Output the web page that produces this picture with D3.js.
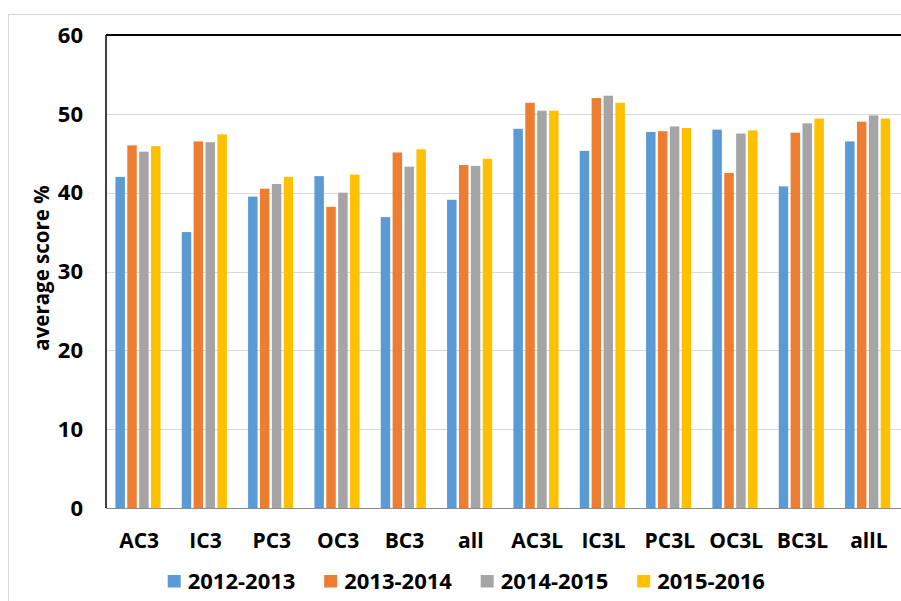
<!DOCTYPE html>
<html>
<head>
<meta charset="utf-8">
<script src="https://cdn.jsdelivr.net/npm/d3@7"></script>
<style>
  body { margin: 0; background: #fff; }
  svg { display: block; font-family: 'Open Sans', sans-serif; font-weight: bold; }
</style>
</head>
<body>
<svg id="chart" width="901" height="601"></svg>
<script>
const categories = ['AC3', 'IC3', 'PC3', 'OC3', 'BC3', 'all', 'AC3L', 'IC3L', 'PC3L', 'OC3L', 'BC3L', 'allL']
const seriesNames = ['2012-2013', '2013-2014', '2014-2015', '2015-2016']
const colors = ['#5b9bd5', '#ed7d31', '#a5a5a5', '#ffc000']
const s2012 = [42.0, 35.0, 39.5, 42.1, 36.9, 39.1, 48.1, 45.3, 47.7, 48.0, 40.8, 46.5]
const s2013 = [46.0, 46.5, 40.5, 38.2, 45.1, 43.5, 51.4, 52.0, 47.8, 42.5, 47.6, 49.0]
const s2014 = [45.2, 46.4, 41.1, 40.0, 43.3, 43.4, 50.4, 52.3, 48.4, 47.5, 48.8, 49.8]
const s2015 = [45.9, 47.4, 42.0, 42.3, 45.5, 44.3, 50.4, 51.4, 48.2, 47.9, 49.4, 49.4]
const yTicks = [0, 10, 20, 30, 40, 50, 60]

const series = [s2012, s2013, s2014, s2015]

const svg = d3.select('#chart')
const plot = { left: 106, right: 902, top: 35, bottom: 508 }

// outer chart border
svg.append('rect')
  .attr('x', 8.5).attr('y', 14.5)
  .attr('width', 901).attr('height', 620)
  .attr('fill', 'none')
  .attr('stroke', '#d9d9d9')

const x0 = d3.scaleBand().domain(categories).range([plot.left, plot.right]).padding(0)
const x1 = d3.scaleBand().domain(seriesNames).range([9.4, x0.bandwidth() - 9.4]).padding(0)
const y = d3.scaleLinear().domain([0, 60]).range([plot.bottom, plot.top])

// gridlines
svg.append('g')
  .selectAll('line')
  .data(yTicks.filter((t) => t > 0 && t < 60))
  .join('line')
  .attr('x1', plot.left).attr('x2', plot.right)
  .attr('y1', (t) => Math.round(y(t)) + 0.5)
  .attr('y2', (t) => Math.round(y(t)) + 0.5)
  .attr('stroke', '#d9d9d9')
  .attr('stroke-width', 1)

// bars
const groups = svg.append('g')
  .selectAll('g')
  .data(categories)
  .join('g')
  .attr('transform', (c) => `translate(${x0(c)},0)`)

groups.selectAll('rect')
  .data((c, i) => series.map((s, k) => ({ name: seriesNames[k], value: s[i], color: colors[k] })))
  .join('rect')
  .attr('x', (d) => x1(d.name))
  .attr('y', (d) => y(d.value))
  .attr('width', x1.bandwidth() - 2.4)
  .attr('height', (d) => y(0) - y(d.value))
  .attr('fill', (d) => d.color)

// axes lines
svg.append('line')
  .attr('x1', plot.left).attr('x2', plot.right)
  .attr('y1', plot.bottom + 0.5).attr('y2', plot.bottom + 0.5)
  .attr('stroke', '#8c8c8c').attr('stroke-width', 1.2)
svg.append('line')
  .attr('x1', plot.left).attr('x2', plot.right)
  .attr('y1', plot.top).attr('y2', plot.top)
  .attr('stroke', '#000').attr('stroke-width', 2)
svg.append('line')
  .attr('x1', plot.left).attr('x2', plot.left)
  .attr('y1', plot.top).attr('y2', plot.bottom)
  .attr('stroke', '#000').attr('stroke-width', 1.5)

// y tick labels
svg.append('g')
  .selectAll('text')
  .data(yTicks)
  .join('text')
  .attr('x', 83)
  .attr('y', (t) => y(t))
  .attr('dy', '0.35em')
  .attr('text-anchor', 'end')
  .attr('font-size', 22)
  .attr('fill', '#000')
  .text((t) => t)

// x category labels
svg.append('g')
  .selectAll('text')
  .data(categories)
  .join('text')
  .attr('x', (c) => x0(c) + x0.bandwidth() / 2)
  .attr('y', 548)
  .attr('text-anchor', 'middle')
  .attr('font-size', 21)
  .attr('fill', '#000')
  .text((c) => c)

// y axis title
svg.append('text')
  .attr('transform', 'translate(49,268) rotate(-90)')
  .attr('text-anchor', 'middle')
  .attr('font-size', 20.5)
  .attr('fill', '#000')
  .text('average score %')

// legend
const legend = svg.append('g')
  .selectAll('g')
  .data(seriesNames)
  .join('g')
  .attr('transform', (d, i) => `translate(${167.7 + i * 156.5},575)`)

legend.append('rect')
  .attr('width', 13).attr('height', 12.5)
  .attr('fill', (d, i) => colors[i])

legend.append('text')
  .attr('x', 20)
  .attr('y', 6.5)
  .attr('dy', '0.36em')
  .attr('font-size', 22)
  .attr('fill', '#000')
  .text((d) => d)
</script>
</body>
</html>
